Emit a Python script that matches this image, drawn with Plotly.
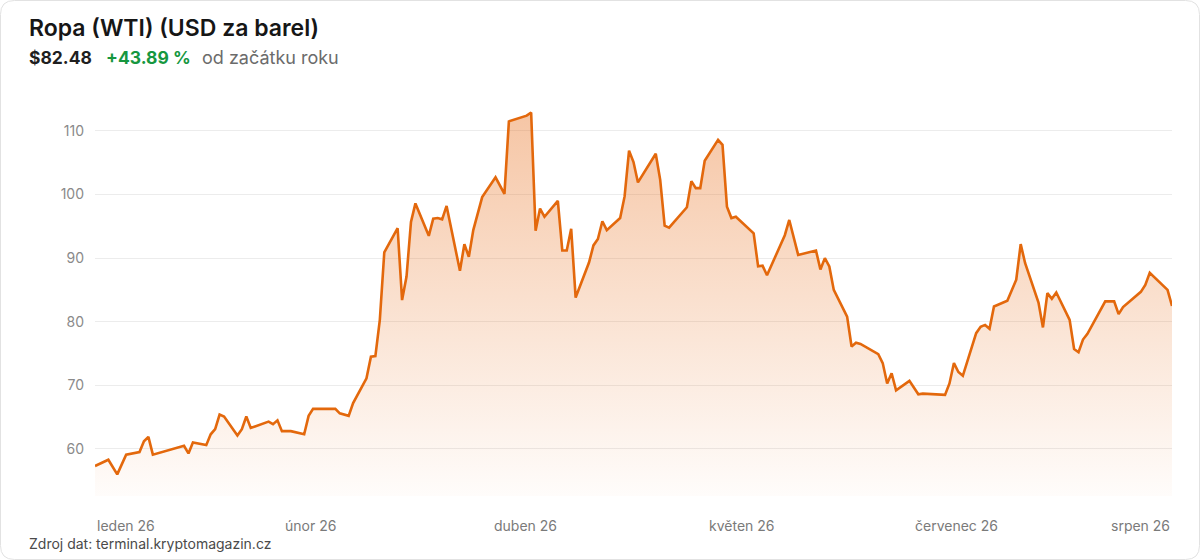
import plotly.graph_objects as go
import pandas as pd

# ---- data ----
dates = [
    "2026-01-01", "2026-01-04", "2026-01-06", "2026-01-08", "2026-01-11", "2026-01-12", "2026-01-13", "2026-01-14",
    "2026-01-21", "2026-01-22", "2026-01-23", "2026-01-26", "2026-01-27", "2026-01-28", "2026-01-29", "2026-01-30",
    "2026-02-02", "2026-02-03", "2026-02-04", "2026-02-05", "2026-02-09", "2026-02-10", "2026-02-11", "2026-02-12",
    "2026-02-14", "2026-02-17", "2026-02-18", "2026-02-19", "2026-02-24", "2026-02-25", "2026-02-27", "2026-02-28",
    "2026-03-03", "2026-03-04", "2026-03-05", "2026-03-06", "2026-03-07", "2026-03-10", "2026-03-11", "2026-03-12",
    "2026-03-13", "2026-03-14", "2026-03-17", "2026-03-18", "2026-03-19", "2026-03-20", "2026-03-21", "2026-03-24",
    "2026-03-25", "2026-03-26", "2026-03-27", "2026-03-29", "2026-04-01", "2026-04-03", "2026-04-04", "2026-04-07",
    "2026-04-08", "2026-04-09", "2026-04-10", "2026-04-11", "2026-04-12", "2026-04-15", "2026-04-16", "2026-04-17",
    "2026-04-18", "2026-04-19", "2026-04-22", "2026-04-23", "2026-04-24", "2026-04-25", "2026-04-26", "2026-04-29",
    "2026-04-30", "2026-05-01", "2026-05-02", "2026-05-03", "2026-05-07", "2026-05-08", "2026-05-09", "2026-05-10",
    "2026-05-14", "2026-05-15", "2026-05-16", "2026-05-17", "2026-05-18", "2026-05-21", "2026-05-22", "2026-05-23",
    "2026-05-24", "2026-05-25", "2026-05-29", "2026-05-30", "2026-05-31", "2026-06-01", "2026-06-05", "2026-06-06",
    "2026-06-08", "2026-06-12", "2026-06-13", "2026-06-14", "2026-06-15", "2026-06-16", "2026-06-19", "2026-06-20",
    "2026-06-21", "2026-06-22", "2026-06-26", "2026-06-27", "2026-06-28", "2026-06-29", "2026-06-30", "2026-07-03",
    "2026-07-05", "2026-07-06", "2026-07-11", "2026-07-12", "2026-07-13", "2026-07-14", "2026-07-15", "2026-07-18",
    "2026-07-19", "2026-07-20", "2026-07-21", "2026-07-22", "2026-07-25", "2026-07-27", "2026-07-28", "2026-07-29",
    "2026-08-01", "2026-08-02", "2026-08-03", "2026-08-04", "2026-08-05", "2026-08-08", "2026-08-09", "2026-08-10",
    "2026-08-11", "2026-08-12", "2026-08-16", "2026-08-18", "2026-08-19", "2026-08-20", "2026-08-24", "2026-08-25",
    "2026-08-26", "2026-08-30", "2026-08-31",
]
prices = [
    57.32, 58.3, 56.0, 59.1, 59.5, 61.2, 61.9, 59.1,
    60.5, 59.3, 61.0, 60.6, 62.3, 63.1, 65.4, 65.1,
    62.1, 63.1, 65.1, 63.3, 64.3, 63.9, 64.5, 62.8,
    62.8, 62.3, 65.2, 66.3, 66.3, 65.6, 65.2, 67.2,
    71.1, 74.5, 74.6, 80.3, 90.9, 94.7, 83.4, 87.1,
    95.7, 98.6, 93.5, 96.2, 96.3, 96.1, 98.2, 88.0,
    92.2, 90.2, 94.4, 99.6, 102.7, 100.1, 111.5, 112.2,
    112.4, 112.9, 94.3, 97.8, 96.5, 99.0, 91.2, 91.2,
    94.6, 83.8, 89.3, 92.0, 93.0, 95.8, 94.4, 96.3,
    99.7, 106.9, 105.1, 101.9, 106.4, 102.3, 95.1, 94.8,
    98.0, 102.1, 101.0, 101.0, 105.3, 108.6, 107.8, 98.1,
    96.3, 96.5, 93.9, 88.7, 88.8, 87.3, 93.6, 96.0,
    90.5, 91.2, 88.2, 90.0, 88.7, 85.0, 80.8, 76.1,
    76.7, 76.5, 74.9, 73.5, 70.3, 71.9, 69.2, 70.7,
    68.6, 68.7, 68.5, 70.3, 73.5, 72.1, 71.5, 78.2,
    79.2, 79.5, 78.9, 82.4, 83.3, 86.6, 92.2, 89.2,
    83.0, 79.1, 84.5, 83.6, 84.6, 80.3, 75.7, 75.2,
    77.2, 78.1, 83.2, 83.2, 81.2, 82.3, 84.7, 85.8,
    87.7, 85.0, 82.48,
]
y_ticks = [60, 70, 80, 90, 100, 110]
x_tick_labels = ["leden 26", "únor 26", "duben 26", "květen 26", "červenec 26", "srpen 26"]

title_text = "Ropa (WTI) (USD za barel)"
last_price_text = "$82.48"
change_text = "+43.89 %"
period_text = "od začátku roku"
source_text = "Zdroj dat: terminal.kryptomagazin.cz"

# ---- layout geometry ----
W, H = 1200, 560
ML, MR, MT, MB = 95, 28, 100, 64
PW, PH = W - ML - MR, H - MT - MB
Y_RANGE = [52.6, 114.86]
FONT = "Inter, 'Noto Sans', sans-serif"
LINE = "#e3680c"


def px_x(px):
    return (px - ML) / PW


def px_y(py):
    return (H - MB - py) / PH


fig = go.Figure()
fig.add_trace(go.Scatter(
    x=dates, y=prices, mode="lines",
    line=dict(color=LINE, width=2.6),
    fill="tozeroy",
    fillgradient=dict(
        type="vertical",
        start=Y_RANGE[0], stop=max(prices),
        colorscale=[[0, "rgba(232,112,30,0.02)"], [1, "rgba(232,112,30,0.40)"]],
    ),
    hoverinfo="skip", showlegend=False,
))

annotations = []
# x tick labels at equally spaced positions across the date range
tick_pos = pd.date_range(dates[0], dates[-1], periods=len(x_tick_labels))
for i, (tp, lab) in enumerate(zip(tick_pos, x_tick_labels)):
    anchor = "left" if i == 0 else ("right" if i == len(x_tick_labels) - 1 else "center")
    annotations.append(dict(
        x=tp, xref="x", y=px_y(525), yref="paper", text=lab, showarrow=False,
        xanchor=anchor, yanchor="middle", font=dict(family=FONT, size=14, color="#7a7a7a"),
    ))

annotations += [
    dict(x=px_x(27), y=px_y(28), xref="paper", yref="paper", text=title_text, showarrow=False,
         xanchor="left", yanchor="middle", font=dict(family=FONT, size=23, color="#161616", weight=600)),
    dict(x=px_x(27), y=px_y(57), xref="paper", yref="paper", text=last_price_text, showarrow=False,
         xanchor="left", yanchor="middle", font=dict(family=FONT, size=17.5, color="#1f1f1f", weight=700)),
    dict(x=px_x(104), y=px_y(57), xref="paper", yref="paper", text=change_text, showarrow=False,
         xanchor="left", yanchor="middle", font=dict(family=FONT, size=17.5, color="#16973f", weight=700)),
    dict(x=px_x(200), y=px_y(57), xref="paper", yref="paper", text=period_text, showarrow=False,
         xanchor="left", yanchor="middle", font=dict(family=FONT, size=18, color="#6b6b6b")),
    dict(x=px_x(27), y=px_y(543), xref="paper", yref="paper", text=source_text, showarrow=False,
         xanchor="left", yanchor="middle", font=dict(family=FONT, size=14, color="#4a4a4a")),
]

# rounded card border
r = 14
x0, x1, y0, y1 = 0.5, W - 0.5, 0.5, H - 0.5


def P(px, py):
    return f"{px_x(px):.6f},{px_y(py):.6f}"


path = (f"M {P(x0 + r, y0)} L {P(x1 - r, y0)} Q {P(x1, y0)} {P(x1, y0 + r)} "
        f"L {P(x1, y1 - r)} Q {P(x1, y1)} {P(x1 - r, y1)} "
        f"L {P(x0 + r, y1)} Q {P(x0, y1)} {P(x0, y1 - r)} "
        f"L {P(x0, y0 + r)} Q {P(x0, y0)} {P(x0 + r, y0)} Z")

fig.update_layout(
    width=W, height=H,
    margin=dict(l=ML, r=MR, t=MT, b=MB, autoexpand=False),
    paper_bgcolor="white", plot_bgcolor="white",
    font=dict(family=FONT),
    annotations=annotations,
    shapes=[dict(type="path", path=path, xref="paper", yref="paper",
                 line=dict(color="#e2e2e2", width=1), fillcolor="rgba(0,0,0,0)", layer="above")],
    xaxis=dict(range=[dates[0], dates[-1]], showgrid=False, zeroline=False, showline=False,
               showticklabels=False, ticks="", automargin=False),
    yaxis=dict(range=Y_RANGE, tickvals=y_ticks, showgrid=True, gridcolor="#ececec", gridwidth=1,
               zeroline=False, showline=False, ticks="", ticklabelstandoff=10,
               tickfont=dict(family=FONT, size=14, color="#8a8a8a"), automargin=False),
)

fig.write_html("out.html", config={"displayModeBar": False},
               post_script="document.body.style.margin='0';")
